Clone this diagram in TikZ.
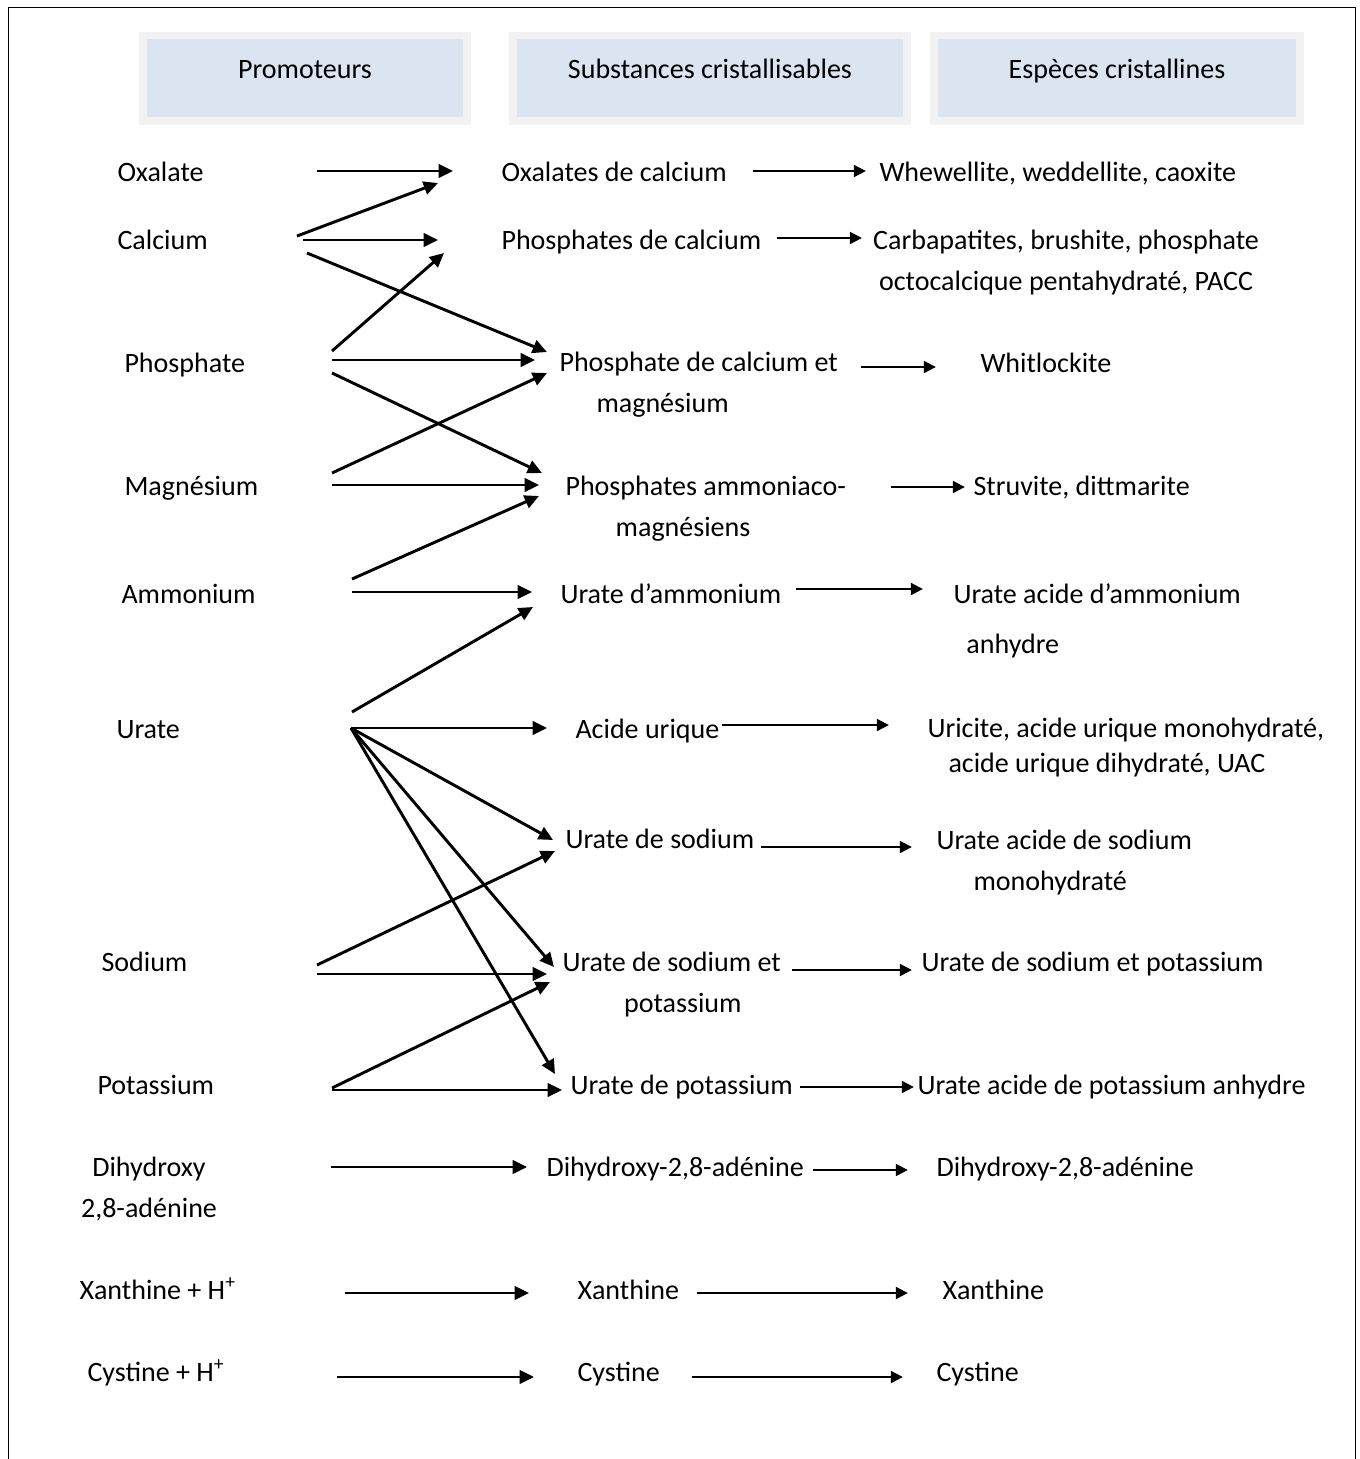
\documentclass[tikz,border=0pt]{standalone}
\usepackage{fontspec}
\setmainfont{Carlito}
\usetikzlibrary{arrows.meta}
\definecolor{headerColor}{RGB}{219,229,241}
\definecolor{headerEdgeColor}{RGB}{242,242,242}
\tikzset{txt/.style={anchor=base west, inner sep=0pt, font=\fontsize{11}{16}\selectfont}}
\tikzset{header/.style={fill=headerColor, draw=headerEdgeColor, line width=0.11cm, minimum height=1.173cm, inner sep=0pt, text height=8pt, text depth=8pt, font=\fontsize{11}{16}\selectfont}}
\tikzset{arrowLeft/.style={line width=1.15pt, -{Triangle[length=5.6pt,width=5.2pt]}}}
\tikzset{arrowRight/.style={line width=1.15pt, -{Triangle[length=4.8pt,width=4.6pt]}}}

\begin{document}
\begin{tikzpicture}[x=0.0138cm, y=-0.0138cm]

    \useasboundingbox (0,0) rectangle (1359,1459);
    \draw [line width=0.75pt] (8.5,1459) -- (8.5,7.5) -- (1355.5,7.5) -- (1355.5,1459);

    % Headers
    \node (h1) [header, minimum width=4.471cm] at (305,78) {Promoteurs};
    \node (h2) [header, minimum width=5.437cm] at (710,78) {Substances cristallisables};
    \node (h3) [header, minimum width=5.051cm] at (1117,78) {Espèces cristallines};

    % Promoteurs
    \node (oxa) [txt] at (117,181) {Oxalate};
    \node (cal) [txt] at (117,249) {Calcium};
    \node (pho) [txt] at (124,372) {Phosphate};
    \node (mag) [txt] at (124,495) {Magnésium};
    \node (amm) [txt] at (121,603) {Ammonium};
    \node (ura) [txt] at (116,738) {Urate};
    \node (sod) [txt] at (101,971) {Sodium};
    \node (pot) [txt] at (97,1094) {Potassium};
    \node (dih) [txt, anchor=base, align=center] at (149,1217) {Dihydroxy\\2,8-adénine};
    \node (xan) [txt] at (79,1299) {Xanthine + H\textsuperscript{+}};
    \node (cys) [txt] at (87,1381) {Cystine + H\textsuperscript{+}};

    % Substances cristallisables
    \node (oxca) [txt] at (501,181) {Oxalates de calcium};
    \node (phca) [txt] at (501,249) {Phosphates de calcium};
    \node (pcm) [txt, align=left] at (559,412) {Phosphate de calcium et\\\hspace*{1.32em}magnésium};
    \node (pam) [txt, align=left] at (565,536) {Phosphates ammoniaco-\\\hspace*{1.79em}magnésiens};
    \node (uam) [txt] at (560,603) {Urate d’ammonium};
    \node (acu) [txt] at (575,738) {Acide urique};
    \node (usod) [txt] at (565,848) {Urate de sodium};
    \node (usp) [txt, align=left] at (562,1012) {Urate de sodium et\\\hspace*{2.2em}potassium};
    \node (upot) [txt] at (570,1094) {Urate de potassium};
    \node (dha) [txt] at (546,1176) {Dihydroxy-2,8-adénine};
    \node (xant) [txt] at (577,1299) {Xanthine};
    \node (cyst) [txt] at (577,1381) {Cystine};

    % Especes cristallines
    \node (whe) [txt] at (879,181) {Whewellite, weddellite, caoxite};
    \node (carb) [txt, anchor=base, align=center] at (1066,290) {Carbapatites, brushite, phosphate\\octocalcique pentahydraté, PACC};
    \node (whi) [txt] at (980,372) {Whitlockite};
    \node (stru) [txt] at (973,495) {Struvite, dittmarite};
    \node (uaam) [txt, align=left] at (953,653) {Urate acide d’ammonium\\[3.5pt]\hspace*{0.46em}anhydre};
    \node (uric) [txt, align=left] at (927,772) {Uricite, acide urique monohydraté,\\[-2.6pt]\hspace*{0.75em}acide urique dihydraté, UAC};
    \node (uasod) [txt, align=left] at (936,890) {Urate acide de sodium\\\hspace*{1.32em}monohydraté};
    \node (usp2) [txt] at (921,971) {Urate de sodium et potassium};
    \node (uapot) [txt] at (917,1094) {Urate acide de potassium anhydre};
    \node (dha2) [txt] at (936,1176) {Dihydroxy-2,8-adénine};
    \node (xant2) [txt] at (942,1299) {Xanthine};
    \node (cyst2) [txt] at (936,1381) {Cystine};

    % Arrow ends
    \foreach \n/\x/\y in {oxa-o/317/171, cal-o1/297/236, cal-o2/303/240, cal-o3/307/253,
        pho-o1/332/351, pho-o2/332/360, pho-o3/332/373, mag-o1/332/473, mag-o2/332/485,
        amm-o1/352/579, amm-o2/352/592, ura-o1/352/712, ura-o2/351/728,
        sod-o1/317/965, sod-o2/317/974, pot-o1/332/1088, pot-o2/332/1090,
        dih-o/331/1167, xan-o/345/1293, cys-o/337/1377}
        \coordinate (\n) at (\x,\y);
    \foreach \n/\x/\y in {oxca-i1/453/171, oxca-i2/438/183, phca-i1/438/240, phca-i2/444/253,
        pcm-i1/547/352, pcm-i2/535/360, pcm-i3/547/373, pam-i1/542/473, pam-i2/539/485, pam-i3/539/496,
        uam-i1/532/592, uam-i2/533/607, acu-i/547/728, usod-i1/553/840, usod-i2/555/851,
        usp-i1/554/967, usp-i2/547/974, usp-i3/550/982, upot-i1/555/1074, upot-i2/562/1090,
        dha-i/527/1167, xant-i/529/1293, cyst-i/534/1377}
        \coordinate (\n) at (\x,\y);
    \foreach \n/\a/\b/\y in {oxca/753/866/171, phca/777/862/238, pcm/861/936/367, pam/891/965/487,
        uam/796/923/589, acu/722/889/725, usod/761/912/847, usp/792/912/970,
        upot/800/914/1087, dha/813/908/1170, xant/697/908/1293, cyst/692/903/1377}
        {\coordinate (\n-o) at (\a,\y); \coordinate (\n-r) at (\b,\y);}

    % Connectors
    \begin{scope}[arrowLeft]
        \draw (oxa-o) -- (oxca-i1);
        \draw (cal-o1) -- (oxca-i2);
        \draw (cal-o2) -- (phca-i1);
        \draw (cal-o3) -- (pcm-i1);
        \draw (pho-o1) -- (phca-i2);
        \draw (pho-o2) -- (pcm-i2);
        \draw (pho-o3) -- (pam-i1);
        \draw (mag-o1) -- (pcm-i3);
        \draw (mag-o2) -- (pam-i2);
        \draw (amm-o1) -- (pam-i3);
        \draw (amm-o2) -- (uam-i1);
        \draw (ura-o1) -- (uam-i2);
        \draw (ura-o2) -- (acu-i);
        \draw (ura-o2) -- (usod-i1);
        \draw (ura-o2) -- (usp-i1);
        \draw (ura-o2) -- (upot-i1);
        \draw (sod-o1) -- (usod-i2);
        \draw (sod-o2) -- (usp-i2);
        \draw (pot-o1) -- (usp-i3);
        \draw (pot-o2) -- (upot-i2);
        \draw (dih-o) -- (dha-i);
        \draw (xan-o) -- (xant-i);
        \draw (cys-o) -- (cyst-i);
    \end{scope}

    \begin{scope}[arrowRight]
        \foreach \n in {oxca, phca, pcm, pam, uam, acu, usod, usp, upot, dha, xant, cyst}
            \draw (\n-o) -- (\n-r);
    \end{scope}

\end{tikzpicture}
\end{document}
